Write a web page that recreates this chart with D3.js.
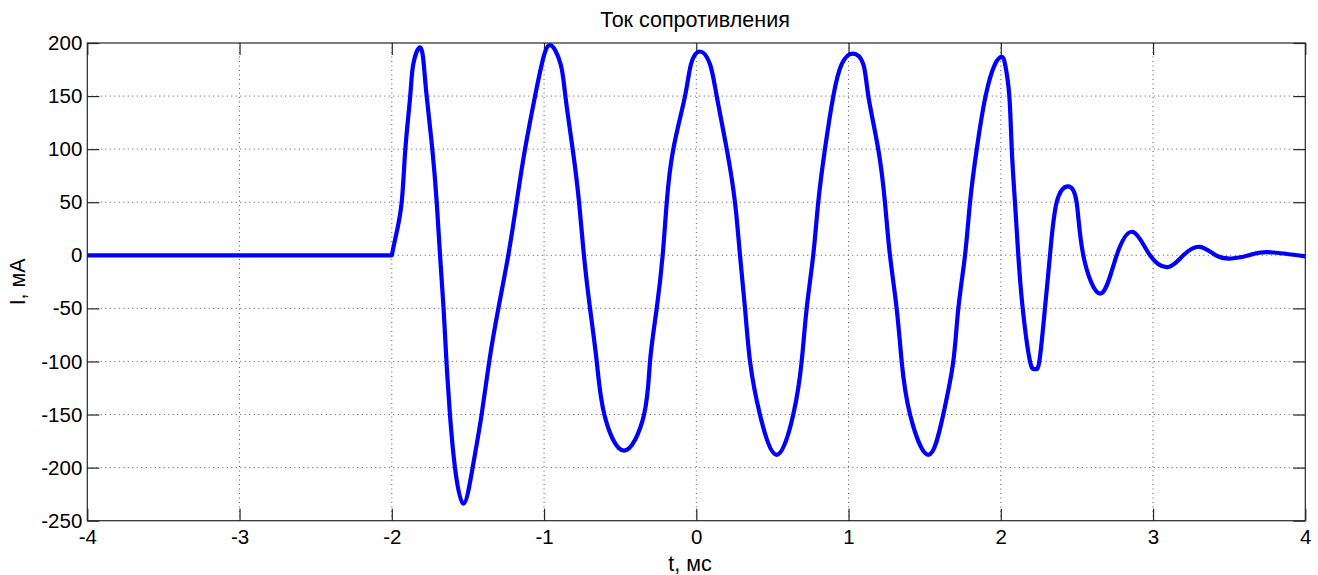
<!DOCTYPE html>
<html>
<head>
<meta charset="utf-8">
<script src="https://cdn.jsdelivr.net/npm/d3@7"></script>
<style>
  html, body { margin: 0; padding: 0; background: #fff; }
  svg { display: block; font-family: "Liberation Sans", Arial, Helvetica, sans-serif; }
</style>
</head>
<body>
<svg id="chart" width="1318" height="575"></svg>
<script>
// Resistor current vs time
const titleText = "Ток сопротивления";
const xLabel = "t, мс";
const yLabel = "I, мА";

const xTicks = [-4, -3, -2, -1, 0, 1, 2, 3, 4];
const yTicks = [-250, -200, -150, -100, -50, 0, 50, 100, 150, 200];

// time, ms
const timeMs = [
  -4.000, -2.000, -1.972, -1.935, -1.911, -1.879, -1.859, -1.815, -1.790, -1.771,
  -1.734, -1.705, -1.683, -1.660, -1.641, -1.618, -1.585, -1.530, -1.469, -1.410,
  -1.360, -1.300, -1.235, -1.180, -1.125, -1.059, -1.015, -0.961, -0.891, -0.860,
  -0.812, -0.770, -0.738, -0.698, -0.654, -0.604, -0.475, -0.343, -0.304, -0.260,
  -0.221, -0.194, -0.151, -0.074, -0.035, 0.024, 0.090, 0.134, 0.200, 0.254,
  0.287, 0.320, 0.353, 0.418, 0.528, 0.637, 0.692, 0.725, 0.768, 0.801,
  0.845, 0.900, 0.955, 1.027, 1.097, 1.130, 1.195, 1.239, 1.272, 1.316,
  1.349, 1.404, 1.524, 1.622, 1.688, 1.721, 1.765, 1.798, 1.842, 1.900,
  1.962, 2.006, 2.028, 2.056, 2.072, 2.093, 2.115, 2.144, 2.192, 2.225,
  2.253, 2.290, 2.323, 2.367, 2.443, 2.498, 2.542, 2.656, 2.761, 2.870,
  2.980, 3.100, 3.199, 3.308, 3.413, 3.517, 3.630, 3.746, 4.000
];
// current, mA
const currentMa = [
  0, 0, 19, 50, 100, 150, 180, 196, 180, 150,
  100, 50, 0, -50, -100, -150, -200, -234, -200, -150,
  -100, -50, 0, 50, 100, 150, 180, 198, 180, 150,
  100, 50, 0, -50, -100, -150, -184, -150, -100, -50,
  0, 50, 100, 150, 180, 192, 180, 150, 100, 50,
  0, -50, -100, -150, -188, -150, -100, -50, 0, 50,
  100, 150, 180, 190, 180, 150, 100, 50, 0, -50,
  -100, -150, -188, -150, -100, -50, 0, 50, 100, 150,
  180, 187, 180, 150, 100, 50, 0, -50, -100, -107,
  -100, -50, 0, 50, 65, 50, 0, -36, 0, 22,
  0, -11, 0, 8, 0, -3, 0, 3, -1
];

// switch-on instant: zero current before it
const switchOnMs = -2.0;

const series = timeMs.map((t, i) => ({ t, v: currentMa[i] }));
const restPart = series.filter(d => d.t <= switchOnMs);
const activePart = series.filter(d => d.t >= switchOnMs);

const svg = d3.select("#chart");
const plot = { left: 87.3, top: 43, right: 1305.3, bottom: 520.7 };
const tickFont = 20.5;
const labelFont = 21.5;
const axisColor = "#262626";
const plainNumber = d => String(d);

const x = d3.scaleLinear().domain([-4, 4]).range([plot.left, plot.right]);
const y = d3.scaleLinear().domain([-250, 200]).range([plot.bottom, plot.top]);

// dotted grid
const grid = svg.append("g");
grid.selectAll("line.gx").data(xTicks.slice(1, -1)).join("line")
  .attr("x1", d => x(d)).attr("x2", d => x(d))
  .attr("y1", plot.top).attr("y2", plot.bottom)
  .attr("stroke", "#555").attr("stroke-width", 1)
  .attr("stroke-dasharray", "1,3.5");
grid.selectAll("line.gy").data(yTicks.slice(1, -1)).join("line")
  .attr("y1", d => y(d)).attr("y2", d => y(d))
  .attr("x1", plot.left).attr("x2", plot.right)
  .attr("stroke", "#555").attr("stroke-width", 1)
  .attr("stroke-dasharray", "1,3.5");

// axes: ticks inside, mirrored on all four sides
const tickLen = 12;
const axB = svg.append("g").attr("transform", `translate(0,${plot.bottom})`)
  .call(d3.axisBottom(x).tickValues(xTicks).tickSizeInner(-tickLen).tickSizeOuter(0).tickPadding(8).tickFormat(plainNumber));
const axT = svg.append("g").attr("transform", `translate(0,${plot.top})`)
  .call(d3.axisTop(x).tickValues(xTicks).tickSizeInner(-tickLen).tickSizeOuter(0).tickFormat(""));
const axL = svg.append("g").attr("transform", `translate(${plot.left},0)`)
  .call(d3.axisLeft(y).tickValues(yTicks).tickSizeInner(-tickLen).tickSizeOuter(0).tickPadding(6).tickFormat(plainNumber));
const axR = svg.append("g").attr("transform", `translate(${plot.right},0)`)
  .call(d3.axisRight(y).tickValues(yTicks).tickSizeInner(-tickLen).tickSizeOuter(0).tickFormat(""));

[axB, axT, axL, axR].forEach(g => {
  g.select(".domain").remove();
  g.selectAll(".tick line").attr("stroke", axisColor).attr("stroke-width", 1.2);
  g.selectAll(".tick text").attr("fill", "#000").style("font-size", tickFont + "px")
    .style("font-family", "'Liberation Sans', Arial, sans-serif");
});
axB.selectAll(".tick text").attr("dy", "0.72em").attr("y", 9);
axL.selectAll(".tick text").attr("x", -5);

// axes box
svg.append("rect")
  .attr("x", plot.left).attr("y", plot.top)
  .attr("width", plot.right - plot.left).attr("height", plot.bottom - plot.top)
  .attr("fill", "none").attr("stroke", axisColor).attr("stroke-width", 1.2);

// current trace: straight zero line, then a smooth spline through the oscillation
const flatLine = d3.line().x(d => x(d.t)).y(d => y(d.v));
const waveLine = d3.line().x(d => x(d.t)).y(d => y(d.v)).curve(d3.curveNatural);
const waveD = waveLine(activePart).replace(/^M[^C]*/, "");
svg.append("path")
  .attr("d", flatLine(restPart) + waveD)
  .attr("fill", "none").attr("stroke", "#0000ff").attr("stroke-width", 4.2)
  .attr("stroke-linejoin", "round").attr("stroke-linecap", "butt");

// title and labels
svg.append("text").attr("x", 695).attr("y", 27)
  .attr("text-anchor", "middle").style("font-size", labelFont + "px").text(titleText);
svg.append("text").attr("x", 690).attr("y", 571)
  .attr("text-anchor", "middle").style("font-size", labelFont + "px").text(xLabel);
svg.append("text").attr("transform", `translate(25,${(plot.top + plot.bottom) / 2}) rotate(-90)`)
  .attr("text-anchor", "middle").style("font-size", labelFont + "px").text(yLabel);
</script>
</body>
</html>
